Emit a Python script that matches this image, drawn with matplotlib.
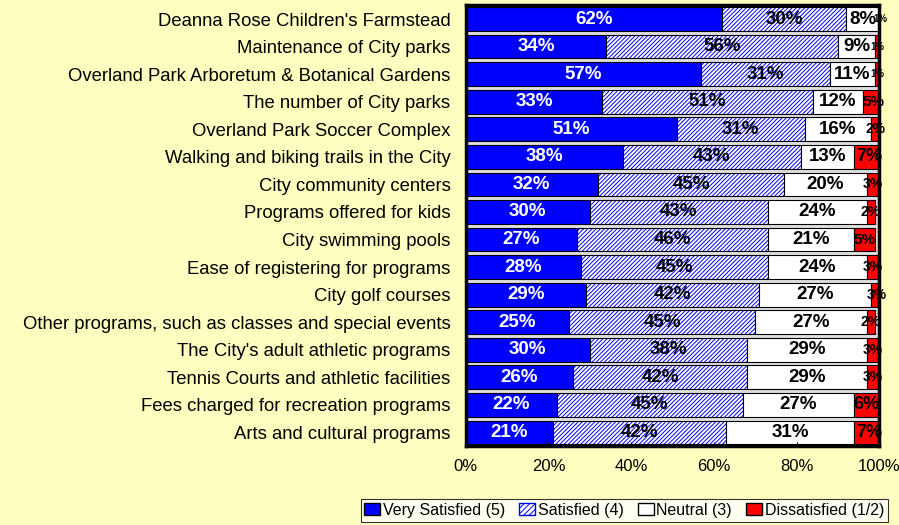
import numpy as np
import matplotlib.pyplot as plt
from matplotlib.patches import Patch

plt.rcParams["font.family"] = ["Liberation Sans", "DejaVu Sans"]
plt.rcParams["hatch.linewidth"] = 0.7

categories = [
    "Deanna Rose Children's Farmstead",
    "Maintenance of City parks",
    "Overland Park Arboretum & Botanical Gardens",
    "The number of City parks",
    "Overland Park Soccer Complex",
    "Walking and biking trails in the City",
    "City community centers",
    "Programs offered for kids",
    "City swimming pools",
    "Ease of registering for programs",
    "City golf courses",
    "Other programs, such as classes and special events",
    "The City's adult athletic programs",
    "Tennis Courts and athletic facilities",
    "Fees charged for recreation programs",
    "Arts and cultural programs",
]
very_satisfied = [62, 34, 57, 33, 51, 38, 32, 30, 27, 28, 29, 25, 30, 26, 22, 21]
satisfied = [30, 56, 31, 51, 31, 43, 45, 43, 46, 45, 42, 45, 38, 42, 45, 42]
neutral = [8, 9, 11, 12, 16, 13, 20, 24, 21, 24, 27, 27, 29, 29, 27, 31]
dissatisfied = [0.5, 1, 1, 5, 2, 7, 3, 2, 5, 3, 3, 2, 3, 3, 6, 7]
dissat_labels = ["1%", "1%", "1%", "5%", "2%", "7%", "3%", "2%", "5%", "3%", "3%", "2%", "3%", "3%", "6%", "7%"]

fig = plt.figure(figsize=(8.99, 5.25), dpi=100, facecolor="#FFFFC0")
ax = fig.add_axes([0.518, 0.150, 0.460, 0.840])
ax.set_facecolor("#E0E0E0")

y = np.arange(len(categories))
h = 0.86
vs = np.array(very_satisfied, float)
sa = np.array(satisfied, float)
ne = np.array(neutral, float)
di = np.array(dissatisfied, float)

ax.barh(y, vs, height=h, color="#0000FF", edgecolor="black", linewidth=0.8)
ax.barh(y, sa, left=vs, height=h, color="white", edgecolor="#0000FF",
        hatch="////////", linewidth=0)
ax.barh(y, sa, left=vs, height=h, fill=False, edgecolor="black", linewidth=0.8)
ax.barh(y, ne, left=vs + sa, height=h, color="white", edgecolor="black", linewidth=0.8)
ax.barh(y, di, left=vs + sa + ne, height=h, color="#FF0000", edgecolor="black",
        linewidth=0.8)

for i in range(len(categories)):
    ax.text(vs[i] / 2, i, f"{very_satisfied[i]}%", ha="center", va="center",
            color="white", fontsize=13.5, fontweight="bold")
    ax.text(vs[i] + sa[i] / 2, i, f"{satisfied[i]}%", ha="center", va="center",
            color="black", fontsize=13.5, fontweight="bold")
    ax.text(vs[i] + sa[i] + ne[i] / 2, i, f"{neutral[i]}%", ha="center", va="center",
            color="black", fontsize=13.5, fontweight="bold")
    d = dissatisfied[i]
    fs = 7 if d <= 1 else (10 if d <= 3 else (11 if d <= 5 else 13))
    ax.text(vs[i] + sa[i] + ne[i] + di[i] / 2, i, dissat_labels[i], ha="center",
            va="center", color="black", fontsize=fs, fontweight="bold", clip_on=False)

ax.set_xlim(0, 100)
ax.set_ylim(len(categories) - 0.5, -0.5)
ax.set_yticks(y)
ax.set_yticklabels(categories, fontsize=13.3)
ax.tick_params(axis="y", length=0, pad=11)
ax.set_xticks([0, 20, 40, 60, 80, 100])
ax.set_xticklabels(["0%", "20%", "40%", "60%", "80%", "100%"], fontsize=12)
ax.tick_params(axis="x", direction="in", length=3, pad=9)
for s in ax.spines.values():
    s.set_linewidth(2.5)
    s.set_color("black")

handles = [
    Patch(facecolor="#0000FF", edgecolor="black", label="Very Satisfied (5)"),
    Patch(facecolor="white", edgecolor="#0000FF", hatch="//////", label="Satisfied (4)"),
    Patch(facecolor="white", edgecolor="black", label="Neutral (3)"),
    Patch(facecolor="#FF0000", edgecolor="black", label="Dissatisfied (1/2)"),
]
leg = fig.legend(handles=handles, loc="lower right", bbox_to_anchor=(0.988, 0.006),
                 ncol=4, fontsize=11.5, frameon=True, fancybox=False, edgecolor="black",
                 handlelength=1.0, handleheight=0.75, handletextpad=0.15,
                 columnspacing=0.9, borderpad=0.25, borderaxespad=0)
leg.get_frame().set_linewidth(0.8)
leg.get_frame().set_facecolor("white")

fig.savefig("out.png", dpi=100, facecolor=fig.get_facecolor())
